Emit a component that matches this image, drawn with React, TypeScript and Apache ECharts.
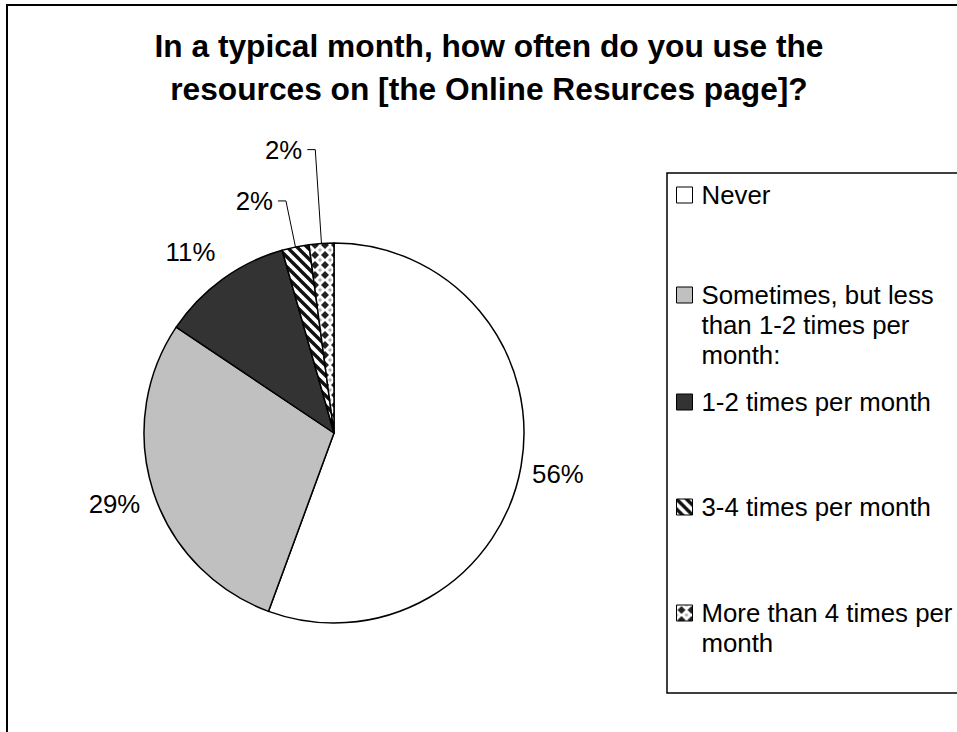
import { useEffect, useRef } from 'react';
import * as echarts from 'echarts';

const FONT = '"Liberation Sans", Arial, sans-serif';

const TITLE_LINES = [
  'In a typical month, how often do you use the',
  'resources on [the Online Resurces page]?',
];

const categories = [
  'Never',
  'Sometimes, but less than 1-2 times per month:',
  '1-2 times per month',
  '3-4 times per month',
  'More than 4 times per month',
];

const legendLines = [
  ['Never'],
  ['Sometimes, but less', 'than 1-2 times per', 'month:'],
  ['1-2 times per month'],
  ['3-4 times per month'],
  ['More than 4 times per', 'month'],
];

// share of respondents (%)
const shares = [55.6, 28.8, 11.2, 2.3, 2.1];

// label layout (styling, not data)
const leaderShown = [false, false, false, true, true];
const leaderLen = [0, 0, 0, 47, 94];
const leaderLen2 = [6, 8, 2, 8, 8];
const labelDy = [8, 12, -27, 0, 0];
const legendIconTop = [187, 287, 394, 499, 605];

function stripeTile(): HTMLCanvasElement {
  const c = document.createElement('canvas');
  c.width = 10;
  c.height = 10;
  const g = c.getContext('2d')!;
  g.fillStyle = '#ffffff';
  g.fillRect(0, 0, 10, 10);
  g.strokeStyle = '#111111';
  g.lineWidth = 3.4;
  for (const k of [-10, 0, 10]) {
    g.beginPath();
    g.moveTo(k - 3, -3);
    g.lineTo(k + 13, 13);
    g.stroke();
  }
  return c;
}

function diamondTile(): HTMLCanvasElement {
  const c = document.createElement('canvas');
  c.width = 10;
  c.height = 10;
  const g = c.getContext('2d')!;
  g.fillStyle = '#ffffff';
  g.fillRect(0, 0, 10, 10);
  g.fillStyle = '#222222';
  g.beginPath();
  g.moveTo(5, 1);
  g.lineTo(9, 5);
  g.lineTo(5, 9);
  g.lineTo(1, 5);
  g.closePath();
  g.fill();
  g.fillStyle = '#b0b0b0';
  for (const [x, y] of [[0, 0], [10, 0], [0, 10], [10, 10]]) {
    g.beginPath();
    g.moveTo(x, y - 2);
    g.lineTo(x + 2, y);
    g.lineTo(x, y + 2);
    g.lineTo(x - 2, y);
    g.closePath();
    g.fill();
  }
  return c;
}

export default function App() {
  const ref = useRef<HTMLDivElement>(null);

  useEffect(() => {
    if (!ref.current) return;
    const chart = echarts.init(ref.current, undefined, { renderer: 'svg' });

    const fills: any[] = [
      '#ffffff',
      '#c0c0c0',
      '#333333',
      { image: stripeTile(), repeat: 'repeat' },
      { image: diamondTile(), repeat: 'repeat' },
    ];

    const legends = categories.map((name, i) => {
      const n = legendLines[i].length;
      const boxTopOffset = Math.min(0, 8 - (2 * n - 1) * 15);
      // blank lines in front keep the first text line level with the icon
      const text = new Array(n - 1).fill('').concat(legendLines[i]).join('\n');
      return {
        data: [name],
        orient: 'vertical',
        left: 676,
        top: legendIconTop[i] + boxTopOffset,
        padding: 0,
        itemWidth: 16,
        itemHeight: 16,
        icon: 'rect',
        selectedMode: false,
        itemStyle: { borderColor: '#000000', borderWidth: 1 },
        formatter: () => text,
        textStyle: {
          fontSize: 25.8,
          fontFamily: FONT,
          color: '#000000',
          lineHeight: 30,
          padding: [0, 0, 0, 4],
        },
      };
    });

    chart.setOption({
      animation: false,
      backgroundColor: '#ffffff',
      title: {
        text: TITLE_LINES.join('\n'),
        left: 489,
        top: 24.5,
        textAlign: 'center',
        padding: 0,
        textStyle: {
          fontSize: 31.7,
          fontWeight: 'bold',
          fontFamily: FONT,
          color: '#000000',
          lineHeight: 43,
        },
      },
      legend: legends,
      graphic: [
        {
          type: 'rect',
          silent: true,
          shape: { x: 7, y: 5, width: 1000, height: 1000 },
          style: { fill: 'none', stroke: '#000000', lineWidth: 2 },
        },
        {
          type: 'rect',
          silent: true,
          shape: { x: 667, y: 173, width: 400, height: 520 },
          style: { fill: 'none', stroke: '#000000', lineWidth: 1.5 },
        },
      ],
      series: [
        {
          type: 'pie',
          center: [334, 433],
          radius: 190,
          startAngle: 90,
          clockwise: true,
          avoidLabelOverlap: false,
          percentPrecision: 0,
          silent: true,
          emphasis: { disabled: true },
          itemStyle: { borderColor: '#000000', borderWidth: 1.5 },
          label: {
            show: true,
            position: 'outside',
            formatter: '{d}%',
            color: '#000000',
            fontSize: 25.8,
            fontFamily: FONT,
            distanceToLabelLine: 5,
          },
          labelLine: { show: false, lineStyle: { color: '#000000', width: 1 } },
          labelLayout: (p: any) => ({ dy: labelDy[p.dataIndex] }),
          data: categories.map((name, i) => ({
            name,
            value: shares[i],
            itemStyle: { color: fills[i] },
            labelLine: {
              show: leaderShown[i],
              length: leaderLen[i],
              length2: leaderLen2[i],
              lineStyle: { color: '#000000', width: 1 },
            },
          })),
        },
      ],
    });

    return () => chart.dispose();
  }, []);

  return (
    <div
      ref={ref}
      style={{ position: 'absolute', left: 0, top: 0, width: 957, height: 732, background: '#ffffff' }}
    />
  );
}
